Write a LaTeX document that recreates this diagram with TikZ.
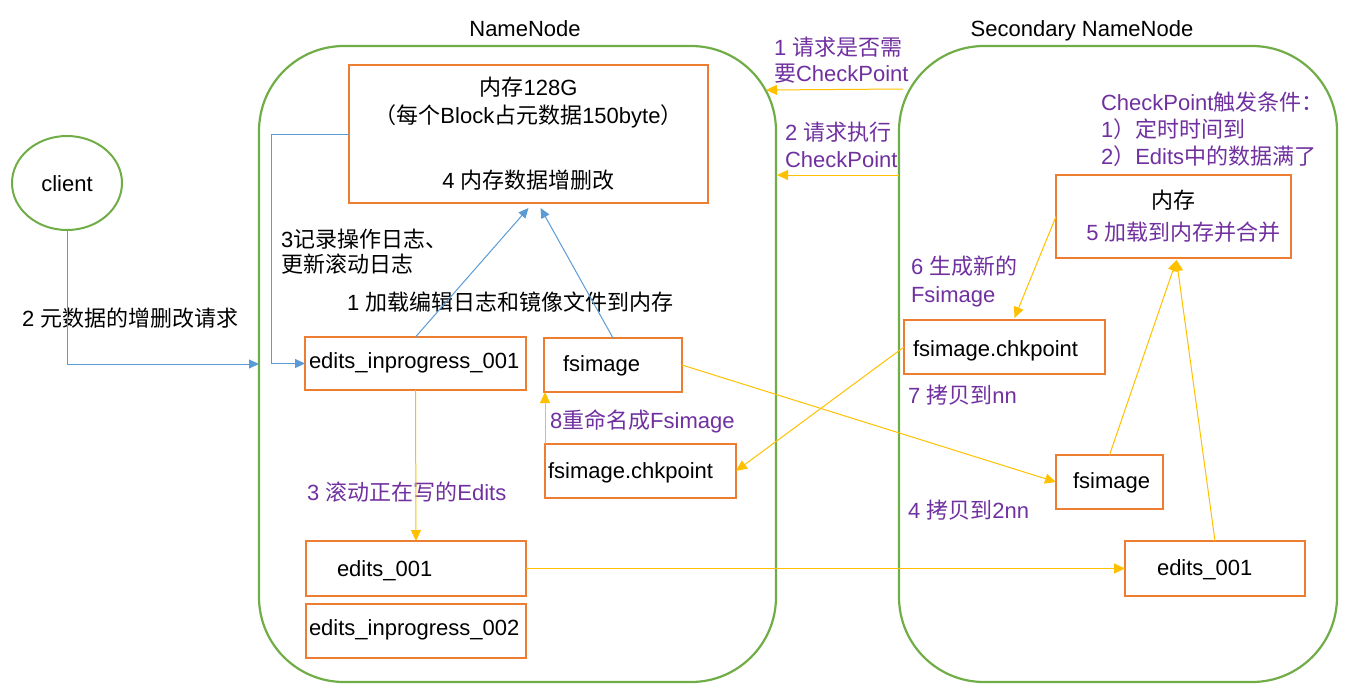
\documentclass[tikz,border=0pt]{standalone}
\usepackage{fontspec}
\setmainfont{Liberation Sans}
\newfontfamily\cjk{Noto Sans CJK SC}
\usetikzlibrary{arrows.meta,calc,shapes.geometric}
\definecolor{cgreen}{HTML}{70AD47}
\definecolor{corange}{HTML}{ED7D31}
\definecolor{cblue}{HTML}{5B9BD5}
\definecolor{cyellow}{HTML}{FFC000}
\definecolor{cpurple}{HTML}{7030A0}
\newcommand{\zh}[1]{{\cjk #1}}
\begin{document}
\begin{tikzpicture}[x=1pt,y=-1pt,
  font=\fontsize{22}{26}\selectfont,
  every node/.style={inner sep=0pt, outer sep=0pt, text height=19pt, text depth=3pt},
  container/.style={draw=cgreen, line width=2.2pt, rounded corners=85pt, anchor=north west},
  obox/.style={draw=corange, line width=1.3pt, anchor=north west},
  membox/.style={draw=corange, line width=2pt, anchor=north west, align=center},
  txt/.style={anchor=west},
  ptxt/.style={anchor=west, text=cpurple},
  ml/.style={anchor=west, align=left, text height=, text depth=},
  bluec/.style={draw=cblue, line width=1pt, -{Triangle[length=10pt,width=9pt]}, fill=none},
  yarrow/.style={draw=cyellow, line width=1pt, -{Triangle[length=11pt,width=10pt]}, fill=none}
]
\useasboundingbox (0,0) rectangle (1356,699);

% containers
\node[container, minimum width=517pt, minimum height=636pt] (nn) at (259,46) {};
\node[container, minimum width=438pt, minimum height=636pt] (snn) at (899,46) {};
\node (nnt) at (525,28) {NameNode};
\node (snnt) at (1082,28) {Secondary NameNode};

% client
\node[draw=cgreen, line width=2pt, ellipse, minimum width=110pt, minimum height=94pt] (client) at (67,183) {client};
\node[txt] (req) at (22,318) {2 \zh{元数据的增删改请求}};

% NameNode memory
\node[membox, minimum width=359pt, minimum height=138pt, text height=, text depth=, font=\fontsize{22}{28}\selectfont] (mem) at (349,65)
  {\zh{内存}128G\\\zh{（每个}Block\zh{占元数据}150byte\zh{）}\\[37pt]4 \zh{内存数据增删改}};

\node[ml, font=\fontsize{22}{25}\selectfont] (rec) at (281,252) {3\zh{记录操作日志、}\\\zh{更新滚动日志}};
\node[txt] (load) at (347,302) {1 \zh{加载编辑日志和镜像文件到内存}};

% NameNode boxes
\node[obox, minimum width=221pt, minimum height=53pt] (ei1) at (305,337) {};
\node[txt] (ei1t) at (309,360) {edits\_inprogress\_001};
\node[obox, minimum width=138pt, minimum height=54pt] (fs1) at (544,338) {};
\node[txt] (fs1t) at (563,363) {fsimage};
\node[obox, minimum width=191pt, minimum height=54pt] (chk1) at (545,444) {};
\node[txt] (chk1t) at (548,470) {fsimage.chkpoint};
\node[obox, minimum width=220pt, minimum height=55pt] (e1) at (306,541) {};
\node[txt] (e1t) at (337,568) {edits\_001};
\node[obox, minimum width=220pt, minimum height=54pt] (ei2) at (306,604) {};
\node[txt] (ei2t) at (309,627) {edits\_inprogress\_002};

\node[ptxt] (ren) at (550,420) {8\zh{重命名成}Fsimage};
\node[ptxt] (roll) at (307,492) {3 \zh{滚动正在写的}Edits};

% Secondary NameNode
\node[ml, text=cpurple, font=\fontsize{22}{26}\selectfont] (ask) at (774,60) {1 \zh{请求是否需}\\\zh{要}CheckPoint};
\node[ml, text=cpurple, font=\fontsize{22}{27}\selectfont] (exe) at (785,145) {2 \zh{请求执行}\\CheckPoint};
\node[ml, text=cpurple, font=\fontsize{22}{27}\selectfont] (cond) at (1101,129)
  {CheckPoint\zh{触发条件：}\\1\zh{）定时时间到}\\2\zh{）}Edits\zh{中的数据满了}};

\node[membox, minimum width=235pt, minimum height=83pt, text height=, text depth=, font=\fontsize{22}{32}\selectfont] (mem2) at (1056,175)
  {\zh{内存}\\\hspace*{20pt}\textcolor{cpurple}{5 \zh{加载到内存并合并}}};

\node[ml, text=cpurple, font=\fontsize{22}{28}\selectfont] (gen) at (911,281) {6 \zh{生成新的}\\Fsimage};
\node[obox, minimum width=201pt, minimum height=54pt] (chk2) at (904,320) {};
\node[txt] (chk2t) at (913,348) {fsimage.chkpoint};
\node[ptxt] (cp7) at (908,395) {7 \zh{拷贝到}nn};
\node[obox, minimum width=107pt, minimum height=54pt] (fs2) at (1056,455) {};
\node[txt] (fs2t) at (1073,480) {fsimage};
\node[ptxt] (cp4) at (908,510) {4 \zh{拷贝到}2nn};
\node[obox, minimum width=180pt, minimum height=55pt] (se1) at (1125,541) {};
\node[txt] (se1t) at (1157,567) {edits\_001};

% blue connectors
\draw[bluec] (client.south) |- (nn.west);
\draw[bluec] (mem.west) -- ++(-78,0) |- (ei1.west);
\draw[bluec] (ei1.north) -- ($(mem.south)+(0,5)$);
\draw[bluec] (fs1.north) -- ($(mem.south)+(12,5)$);

% yellow connectors
\coordinate (q1s) at (903,89);
\coordinate (q1e) at (766,90);
\coordinate (q2s) at (899,175);
\coordinate (q2e) at (777,175);
\draw[yarrow] (q1s) -- (q1e);
\draw[yarrow] (q2s) -- (q2e);
\draw[yarrow] (mem2.west) -- ($(chk2.north)+(10,-2)$);
\draw[yarrow] (chk2.west) -- (chk1.east);
\draw[yarrow] (fs1.east) -- (fs2.west);
\draw[yarrow] (chk1.north west) -- (chk1.north west |- fs1.south);
\draw[yarrow] (ei1.south) -- (e1.north);
\draw[yarrow] (e1.east) -- (se1.west);
\draw[yarrow] (fs2.north) -- ($(mem2.south)+(3,2)$);
\draw[yarrow] (se1.north) -- ($(mem2.south)+(3,2)$);
\end{tikzpicture}
\end{document}
